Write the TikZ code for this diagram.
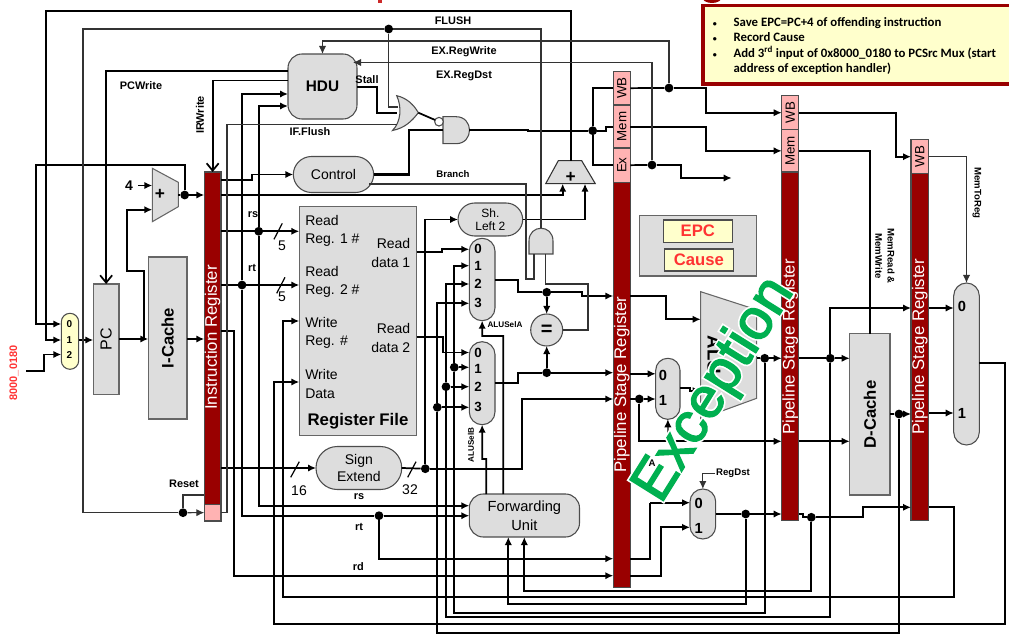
\documentclass[tikz,border=0pt]{standalone}
\usepackage{fontspec}
\setmainfont{Liberation Sans}
\newfontfamily\notefont{Carlito}
\usetikzlibrary{arrows.meta,positioning,calc}
\definecolor{pipered}{HTML}{990000}
\definecolor{pipepink}{HTML}{FFB3B3}
\definecolor{boxgray}{HTML}{DDDDDD}
\definecolor{noteyellow}{HTML}{FFFFCC}
\definecolor{excgreen}{HTML}{00B050}
\definecolor{redtext}{HTML}{FF3333}
\newcommand{\fs}[1]{\fontsize{#1}{#1}\selectfont}
\tikzset{
  spans/.style n args={4}{at={({(#1+#3)/2},{(#2+#4)/2})},minimum width={(#3-#1)*0.75pt},minimum height={(#4-#2)*0.75pt}},
  wire/.style={line width=1.3pt,black,line join=miter},
  thinwire/.style={line width=0.85pt,black!80},
  openarrow/.style={-{Straight Barb[length=5.5pt,width=9pt,line width=1.3pt]}},
  dot/.style={circle,fill=black,inner sep=0pt,minimum size=6.6pt},
  box/.style={draw=black!60,line width=0.8pt,fill=boxgray,inner sep=0pt,outer sep=0pt},
  pipe/.style={draw=black!70,line width=0.8pt,fill=pipered,inner sep=0pt,outer sep=0pt},
  pink/.style={draw=black!70,line width=0.8pt,fill=pipepink,inner sep=0pt,outer sep=0pt,font=\fs{10}},
  muxbox/.style={box,draw=black!70,rounded corners=9.6pt},
  muxdigit/.style={inner sep=0pt,font=\bfseries\fs{10}},
  sig/.style={inner sep=0pt,font=\bfseries\fs{8.2}},
  tinysig/.style={inner sep=0pt,font=\bfseries\fs{7.2}},
  regtext/.style={inner sep=0pt,font=\fontsize{10.5}{13.6}\selectfont},
  pipetext/.style={inner sep=0pt,white,rotate=90,font=\fs{12.6}}
}
\begin{document}
\begin{tikzpicture}[x=0.75pt,y=-0.75pt,>={Latex[length=6pt,width=5.5pt]}]
\useasboundingbox (0,0) rectangle (1009,634);

\fill[redtext!80!black] (378,0) rectangle (382,3);
\fill[pipered] (712,-3) ellipse [x radius=7.5pt,y radius=4.5pt];

\node[box,draw=black!70,rounded corners=10.5pt,spans={288}{54}{357}{119},font=\bfseries\fs{11.5}] (hdu) {HDU};
\node[box,draw=black!70,rounded corners=13.7pt,spans={293.3}{156.5}{373.7}{192.5},font=\fs{10.5}] (ctrl) {Control};
\node[box,spans={299.3}{206.3}{416.7}{435.7}] (regf) {};
\node[box,draw=black!70,rounded corners=12.5pt,spans={458}{203}{522.7}{236},font=\fs{9},align=center] (shl) {Sh.\\[1pt]Left 2};
\node[box,draw=black!70,rounded corners=16pt,spans={316}{446.5}{401.7}{489.5},font=\fontsize{10.5}{13}\selectfont,align=center] (sign) {Sign\\Extend};
\node[box,draw=black!70,rounded corners=10.5pt,spans={469.3}{494}{579.5}{537},font=\fontsize{11}{14}\selectfont,align=center] (fwd) {Forwarding\\Unit};
\node[box,spans={93.3}{284}{119}{394.3},font=\fs{12}] (pc) {\rotatebox{90}{PC}};
\node[box,spans={148.3}{257}{187}{419},font=\bfseries\fs{12.5}] (icache) {\rotatebox{90}{I-Cache}};
\node[box,spans={849.7}{333.7}{890}{495},font=\bfseries\fs{12.5}] (dcache) {\rotatebox{90}{D-Cache}};

\node[muxbox,fill=noteyellow,rounded corners=6.5pt,spans={61.3}{313.3}{78.7}{369.3}] (pcmux) {};
\node[muxbox,spans={469.3}{238.3}{495}{320.7}] (muxa) {};
\node[muxbox,spans={469.3}{341.7}{495}{424.7}] (muxb) {};
\node[muxbox,rounded corners=9pt,spans={655.7}{358.3}{680}{419.3}] (muxc) {};
\node[muxbox,spans={690}{489}{715.7}{539}] (dstmux) {};
\node[muxbox,spans={953.7}{283}{979.3}{445}] (wbmux) {};
\node[circle,draw=black!70,line width=0.8pt,fill=boxgray,minimum size=24pt,inner sep=0pt,outer sep=0pt,font=\bfseries\fs{15}] (eq) at (546.7,330) {=};

\node[pipe,spans={204.3}{172}{221}{504.3}] (ir) {};
\node[pink,spans={204.3}{504.3}{221}{521}] (irrst) {};
\node[pipe,spans={613.3}{182.3}{630.3}{587.3}] (p1) {};
\node[pink,spans={613.3}{71.3}{630.3}{105}] (p1wb) {\rotatebox{90}{WB}};
\node[pink,spans={613.3}{105}{630.3}{148}] (p1mem) {\rotatebox{90}{Mem}};
\node[pink,spans={613.3}{148}{630.3}{182.3}] (p1ex) {\rotatebox{90}{Ex}};
\node[pipe,spans={781.7}{172}{798.7}{520.7}] (p2) {};
\node[pink,spans={781.7}{95.7}{798.7}{129.7}] (p2wb) {\rotatebox{90}{WB}};
\node[pink,spans={781.7}{129.7}{798.7}{172}] (p2mem) {\rotatebox{90}{Mem}};
\node[pipe,spans={911}{173.7}{928.7}{520.7}] (p3) {};
\node[pink,spans={911}{139.7}{928.7}{173.7}] (p3wb) {\rotatebox{90}{WB}};
\node[pipetext] (tir) at (212.6,337.5) {Instruction Register};
\node[pipetext] (tp1) at (621.8,384.5) {Pipeline Stage Register};
\node[pipetext] (tp2) at (790.2,347) {Pipeline Stage Register};
\node[pipetext] (tp3) at (919.8,347) {Pipeline Stage Register};

\filldraw[box] (152.3,168.3) -- (178.3,182.3) -- (178.3,206.7) -- (152.3,221.7) -- cycle;
\filldraw[box,draw=black!80] (558.3,160.7) -- (581.7,160.7) -- (595.3,183.7) -- (545.7,183.7) -- cycle;
\filldraw[box] (700.7,291.7) -- (756.7,309.8) -- (756.7,398.3) -- (700.7,418.7) -- cycle;
\node[inner sep=0pt,font=\bfseries\fs{13}] (ladd1) at (160,194.5) {+};
\node[inner sep=0pt,font=\bfseries\fs{13}] (ladd2) at (570.7,177) {+};
\node[inner sep=0pt,rotate=-90,font=\bfseries\fs{14}] (lalu) at (714,355) {ALU};

\filldraw[box,draw=black!70] (396.7,95.7) .. controls (407,98) and (414,105) .. (418.3,112.7) .. controls (412,121) and (405,128) .. (392.5,130.5) .. controls (401,122) and (402,107) .. cycle;
\filldraw[box,draw=black!70] (443,116.7) -- (456,116.7) .. controls (474,116.7) and (474,143.7) .. (456,143.7) -- (443,143.7) -- cycle;
\filldraw[box,draw=black!70] (529,254) -- (529,241) .. controls (529,224) and (553,224) .. (553,241) -- (553,254) -- cycle;
\node[circle,draw=black!70,line width=0.8pt,fill=white,minimum size=6.5pt,inner sep=0pt,outer sep=0pt] (bub) at (439,121.7) {};

\node[box,spans={639.3}{215.7}{756.7}{276}] (cp0) {};
\node[box,draw=black!70,fill=noteyellow,spans={663.3}{220}{732.3}{242.3},text=redtext,font=\bfseries\fs{12.5}] (epc) {EPC};
\node[box,draw=black!70,fill=noteyellow,spans={664.3}{249}{733.3}{271},text=redtext,font=\bfseries\fs{12.5}] (cause) {Cause};

\node[draw=pipered,line width=2.8pt,fill=noteyellow,inner sep=0pt,outer sep=0pt,spans={703}{5.5}{1014}{84}] (note) {};
\node[anchor=north west,inner sep=0pt,align=left,font=\notefont\bfseries\fontsize{9.6}{11.55}\selectfont] (notes) at (733.3,17) {\llap{\fs{6}•\hspace{12.5pt}}Save EPC=PC+4 of offending instruction\\
\llap{\fs{6}•\hspace{12.5pt}}Record Cause\\
\llap{\fs{6}•\hspace{12.5pt}}Add 3\textsuperscript{rd} input of 0x8000\_0180 to PCSrc Mux (start\\
address of exception handler)};

\foreach \n/\x/\y in {jnext/184.7/195,jrs/258.7/231.3,jrt/242/285,jrst/183/512.7,jflush/388.7/29,jregw/669/88,jregd/652/165,jctl/592.7/130.7,jaout/546.7/292.3,jbout/546.7/372.7,jimm/425.3/468.7,jbi1/454.3/367.3,jbi2/446/386.7,jbi3/437.3/407.3,jrtf/379/515.7,jimmp/639.3/399,jalu/764.7/358.3,jdaddr/830.3/358.3,jmem/899/414,jdst/745.7/514,jdstm/811.3/517.3}
    \node[dot] (\n) at (\x,\y) {};

\foreach \n/\x/\y in {add1a/152.3/185.5,add1b/152.3/209.7,add1o/178.3/195,addbro/570.7/160.7,addbra/562.7/183.7,addbrb/585/183.7,immfree/26/371,pcfeed/144.3/339,alua/700.7/319.3,alub/700.7/390.7,aluo/756.7/358.3,norin/397/112.7,norflush/398/107,norif/397/124.7,norout/418.3/112.7,andin/443/130,andout/469/130,brandout/541/228,brandb/534/254,brandc/545.7/254,ctlbr/369/184,hduex/353/62.5,exend/731.7/178,alusrc/668/442,regdst/715/473.5}
    \coordinate (\n) at (\x,\y);

\draw[wire] (add1o) -- (jnext);
\draw[wire,->] (jnext) -- (ir.west |- jnext);
\draw[wire,->] (jnext) |- (36,165) |- (pcmux.west |- 0,324);
\draw[wire,->] (addbro) |- (46,11) |- (pcmux.west |- 0,340);
\draw[wire,->] (immfree) -| (43.7,354.5) -- (pcmux.west |- 0,354.5);
\draw[wire,->] (pcmux.east |- 0,340) -- (pc.west |- 0,340);
\draw[wire,->] (pc.east |- 0,339) -- (icache.west |- 0,339);
\draw[wire,->] (icache.east |- 0,339) -- (ir.west |- 0,339);
\draw[wire,->] (pcfeed) |- (127,271) |- (add1b);
\draw[wire,openarrow] (hdu.west |- 0,71) -| (pc.north);
\draw[wire,openarrow] (hdu.west |- 0,80.5) -| (ir.north);
\draw[wire,->] (jrt) |- (hdu.west |- 0,94);
\draw[wire,->] (jrs) |- (hdu.west |- 0,106);
\draw[wire] (jrt) |- (jrtf);
\draw[wire,->] (jrtf) -- (jrtf -| fwd.west);
\draw[wire,->] (jrs) |- (fwd.west |- 0,505.7);
\draw[wire,->] (jrtf) |- (p1.west |- 0,558.7);
\draw[wire,->] (ir.east |- jrs) -- (regf.west |- jrs);
\draw[wire,->] (ir.east |- jrt) -- (regf.west |- jrt);
\draw[wire,->] (ir.east |- 0,180.3) -- (252,180.3) |- (ctrl.west);
\draw[wire,line width=1.6pt] (ctrl.east) -| (408.7,130) -- (andin);
\draw[wire,->] (ir.east |- 0,194.7) -| (addbra);
\draw[wire,->] (ir.east |- sign) -- (sign.west);
\draw[wire,->] (ir.east |- 0,330.7) -- (234,330.7) |- (p1.west |- 0,575.7);
\draw[wire,->] (jimm) |- (shl.west);
\draw[wire,->] (shl.east) -| (addbrb);
\draw[wire] (sign.east) -- (jimm);
\draw[wire,->] (jimm) -- (521.7,468.7) |- (p1.west |- 0,399);
\draw[wire,->] (regf.east |- 0,251.7) -- (441.7,251.7) |- (muxa.west |- 0,249.3);
\draw[wire,->] (regf.east |- 0,336.7) -| (443.3,352.5) -- (muxb.west |- 0,352.5);
\draw[wire,->] (jbi1) |- (muxa.west |- 0,265.7);
\draw[wire,->] (jbi2) |- (muxa.west |- 0,284);
\draw[wire,->] (jbi3) |- (muxa.west |- 0,303.3);
\draw[wire,->] (jbi1) -- (jbi1 -| muxb.west);
\draw[wire,->] (jbi2) -- (jbi2 -| muxb.west);
\draw[wire,->] (jbi3) -- (jbi3 -| muxb.west);
\draw[wire] (jbi1) -- (454.3,613.3) -| (jalu);
\draw[wire] (jbi2) -- (446,616.7) -| (jdaddr);
\draw[wire] (jbi3) -- (437.3,633) -| (jmem);
\draw[wire] (muxa.east |- 0,279.7) -- (518.3,279.7) |- (jaout);
\draw[wire,->] (jaout) -- (581.7,292.3) |- (p1.west |- 0,296);
\draw[wire,->] (jaout) -- (eq.north);
\draw[wire] (muxb.east |- 0,382.7) -- (518.3,382.7) |- (jbout);
\draw[wire,->] (jbout) -- (eq.south);
\draw[wire,->] (jbout) -- (jbout -| p1.west);
\draw[wire,->] (fwd.north -| 486.3,0) |- (482.2,459) -- (muxb.south);
\draw[wire,->] (fwd.north -| 503.3,0) |- (482.2,336) -- (muxa.south);
\draw[wire] (p1.east |- 0,558.7) -| (650,502.7);
\draw[wire,->] (650,502.7) -- (dstmux.west |- 0,502.7);
\draw[wire,->] (p1.east |- 0,575.7) -| (660.7,527.3) -- (dstmux.west |- 0,527.3);
\draw[wire,->] (p1.east |- 0,296) -| (665.7,319.3) -- (alua);
\draw[wire,->] (p1.east |- 0,373.8) -- (muxc.west |- 0,373.8);
\draw[wire] (p1.east |- jimmp) -- (jimmp);
\draw[wire,->] (jimmp) -- (jimmp -| muxc.west);
\draw[wire,->] (jimmp) |- (p2.west |- 0,441.3);
\draw[wire,->] (muxc.east |- 0,387.7) -- (690,387.7) |- (alub);
\draw[wire,->,line width=0.9pt] (alusrc) -- (muxc.south);
\draw[wire] (aluo) -- (jalu);
\draw[wire,->] (jalu) -- (jalu -| p2.west);
\draw[wire] (p2.east |- jdaddr) -- (jdaddr);
\draw[wire,->] (jdaddr) -- (jdaddr -| dcache.west);
\draw[wire,->] (jdaddr) |- (p3.west |- 0,308);
\draw[wire,->] (p2.east |- 0,441.3) -- (dcache.west |- 0,441.3);
\draw[wire] (dcache.east |- jmem) -- (jmem);
\draw[wire,->] (jmem) -- (jmem -| p3.west);
\draw[wire,->] (p3.east |- 0,413) -- (wbmux.west |- 0,413);
\draw[wire,->] (p3.east |- 0,308) -- (wbmux.west |- 0,308);
\draw[wire,->] (p3.east |- 0,507.3) -| (954,597.3) -- (283,597.3) |- (regf.west |- 0,321);
\draw[wire,->] (wbmux.east |- 0,363.3) -| (1004.7,623.7) -- (273.7,623.7) |- (regf.west |- 0,382);
\draw[wire] (dstmux.east |- jdst) -- (jdst);
\draw[wire,->] (jdst) -- (jdst -| p2.west);
\draw[wire,->] (jdst) |- (508.3,604.3) -- (fwd.south -| 508.3,0);
\draw[wire] (p2.east |- 0,514) -- (803.3,514) |- (jdstm);
\draw[wire,->] (jdstm) -- (863.3,517.3) |- (p3.west |- 0,507.3);
\draw[wire,->] (jdstm) |- (524.3,590.7) -- (fwd.south -| 524.3,0);
\draw[wire] (andout) -- (528,130) -- (528,130.7) -- (jctl);
\draw[wire] (jctl) |- (p1wb.west);
\draw[wire] (jctl) |- (p1ex.west);
\draw[wire] (jctl) -- (605.7,130.7) |- (p1mem.west |- 0,126.7);
\draw[wire] (p1wb.east) -- (jregw);
\draw[wire,->] (jregw) -- (705.7,88) |- (p2wb.west);
\draw[wire,->] (p1mem.east |- 0,126.7) -- (705.7,126.7) |- (p2mem.west);
\draw[wire] (p1ex.east) -- (jregd);
\draw[wire,->] (jregd) -- (681,165) |- (exend);
\draw[wire,->] (p2wb.east) -| (896,156.7) -- (p3wb.west);
\draw[wire] (p2mem.east) -| (dcache.north);
\draw[wire] (hdu.east |- 0,87) -| (376.7,112.7) -- (norin);
\draw[wire] (norout) -- (bub);
\draw[thinwire,->] (p3wb.east) -| (wbmux.north);
\draw[thinwire] (jflush) -- (83,29) |- (jrst);
\draw[thinwire] (jflush) -| (brandout);
\draw[thinwire] (jflush) |- (norflush);
\draw[thinwire] (norif) -- (227,124.7) |- (irrst.east);
\draw[thinwire,->] (jrst) -- (irrst.west);
\draw[thinwire] (jrst) |- (ir.west |- 0,495);
\draw[thinwire,->] (jregw) -- (669,41) -| (hdu.north);
\draw[thinwire,->] (jregd) |- (hduex);
\draw[thinwire] (ctlbr) -- (526,184) |- (534,279) -- (brandb);
\draw[thinwire] (brandc) |- (588,284) |- (eq.east);
\draw[thinwire,->] (regdst) -| (dstmux.north);

\node[inner sep=0pt,font=\bfseries\fs{10.5}] (lfour) at (129,185.5) {4};
\draw[wire,->] (lfour.east) ++(4pt,0) -- (add1a);
\draw[line width=0.9pt] (274,239.3) -- (282.3,223.3);
\draw[line width=0.9pt] (276.7,293.3) -- (285,277.3);
\draw[line width=0.9pt] (290.7,477.3) -- (299.3,461.7);
\draw[line width=0.9pt] (407.7,477.3) -- (416,461.7);
\node[regtext] (lb5a) at (282,246) {5};
\node[regtext] (lb5b) at (282,296.7) {5};
\node[regtext] (lb16) at (299,491) {16};
\node[regtext] (lb32) at (410,490) {32};

\node[regtext,align=left,anchor=west] (lrr1) at (305,231) {Read\\Reg. 1 \#};
\node[regtext,align=left,anchor=west] (lrr2) at (305,282) {Read\\Reg. 2 \#};
\node[regtext,align=left,anchor=west] (lwr) at (305,333) {Write\\Reg. \#};
\node[regtext,align=left,anchor=west] (lwd) at (305,384) {Write\\Data};
\node[regtext,align=right,anchor=east] (lrd1) at (410.5,253) {Read\\data 1};
\node[regtext,align=right,anchor=east] (lrd2) at (410.5,338) {Read\\data 2};
\node[inner sep=0pt,font=\bfseries\fs{12.6}] (lregf) at (358,421) {Register File};

\foreach \n/\y in {0/324.3,1/340.3,2/355.3}
    \node[muxdigit,font=\bfseries\fs{7.5}] (lpc\n) at (69.5,\y) {\n};
\foreach \n/\y in {0/249.3,1/265.7,2/284,3/303.3}
    \node[muxdigit] (lma\n) at (478,\y) {\n};
\foreach \n/\y in {0/352.7,1/368.7,2/387.3,3/406.7}
    \node[muxdigit] (lmb\n) at (478,\y) {\n};
\foreach \n/\y in {0/375,1/400}
    \node[muxdigit,font=\bfseries\fs{11}] (lmc\n) at (663,\y) {\n};
\foreach \n/\y in {0/503,1/528}
    \node[muxdigit,font=\bfseries\fs{11}] (lmd\n) at (698.7,\y) {\n};
\foreach \n/\y in {0/306,1/413}
    \node[muxdigit,font=\bfseries\fs{11}] (lmw\n) at (962,\y) {\n};

\foreach \n/\x/\y/\t in {lflush/453/21/FLUSH,lregw/464/52/EX.RegWrite,lregd/464/76/EX.RegDst,lifl/310/132/IF.Flush,lstall/367/80/Stall,lpcw/141/86/PCWrite,lrst/184/484/Reset,lrs/253/215/rs,lrt/252/268/rt,lrs2/359/496.7/rs,lrt2/359/526.7/rt,lrd/358.3/566.7/rd}
    \node[sig] (\n) at (\x,\y) {\t};
\node[tinysig] (lbranch) at (453,174) {Branch};
\node[tinysig] (lrdst) at (733,473.7) {RegDst};
\node[tinysig,font=\bfseries\fs{6.1}] (lsela) at (505,325) {ALUSelA};
\node[tinysig,font=\bfseries\fs{6.1},rotate=90] (lselb) at (471,445) {ALUSelB};
\node[sig,rotate=90] (lirw) at (200,115) {IRWrite};
\node[tinysig,rotate=-90] (lmtr) at (977,193) {MemToReg};
\node[tinysig,rotate=-90,align=center,font=\bfseries\fontsize{7.2}{9.2}\selectfont] (lmrw) at (885,256) {MemRead \&\\MemWrite};
\node[tinysig] (lasrc) at (652,462.7) {A};
\node[inner sep=0pt,rotate=90,text=redtext,font=\bfseries\fs{8.2}] (limm) at (14,373) {8000\_0180};

\node[inner sep=0pt,rotate=58,text=excgreen,font=\fs{43}] (lexc) at (715,390) {\special{pdf:code 2 Tr 3.6 w 1 1 1 RG 1 1 1 rg}\rlap{Exception}\special{pdf:code 2 Tr 1.1 w 0 0.69 0.314 rg 0 0.69 0.314 RG}Exception\special{pdf:code 0 Tr 0 w}};
\end{tikzpicture}
\end{document}
